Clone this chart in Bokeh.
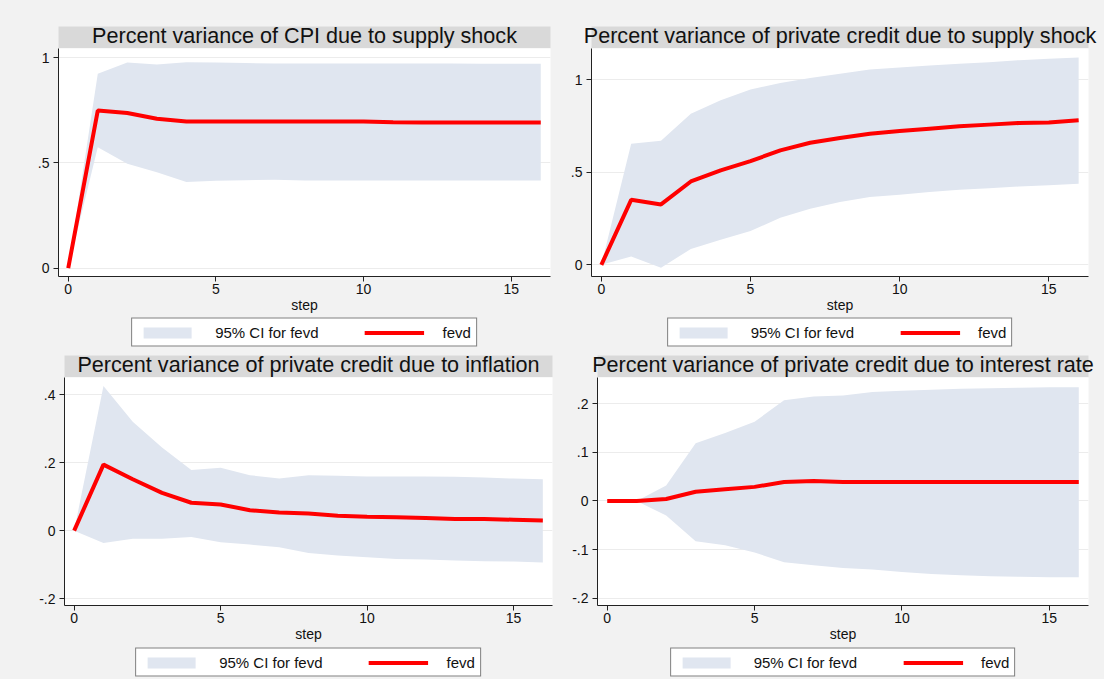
from bokeh.plotting import figure
from bokeh.models import Range1d, FixedTicker, Legend, LegendItem, Label, BoxAnnotation
from bokeh.layouts import column, row
from bokeh.embed import file_html
from bokeh.resources import INLINE

# ---------------- data ----------------
steps = list(range(17))
x_ticks = [0, 5, 10, 15]

titles = [
    "Percent variance of CPI due to supply shock",
    "Percent variance of private credit due to supply shock",
    "Percent variance of private credit due to inflation",
    "Percent variance of private credit due to interest rate",
]

fevd_cpi_supply = [0, 0.749, 0.737, 0.710, 0.697, 0.697, 0.697, 0.697, 0.697, 0.697, 0.697, 0.693, 0.692, 0.692, 0.692, 0.692, 0.692]
lo_cpi_supply = [0, 0.575, 0.496, 0.456, 0.409, 0.415, 0.418, 0.420, 0.416, 0.417, 0.417, 0.417, 0.417, 0.417, 0.417, 0.417, 0.417]
hi_cpi_supply = [0, 0.924, 0.978, 0.968, 0.979, 0.977, 0.975, 0.973, 0.973, 0.973, 0.973, 0.973, 0.973, 0.973, 0.972, 0.972, 0.972]

fevd_cred_supply = [0, 0.351, 0.326, 0.450, 0.510, 0.560, 0.618, 0.659, 0.685, 0.708, 0.722, 0.735, 0.748, 0.757, 0.766, 0.769, 0.780]
lo_cred_supply = [0, 0.045, -0.016, 0.086, 0.135, 0.182, 0.254, 0.303, 0.339, 0.366, 0.378, 0.393, 0.405, 0.414, 0.423, 0.429, 0.438]
hi_cred_supply = [0, 0.654, 0.670, 0.816, 0.888, 0.946, 0.982, 1.009, 1.032, 1.054, 1.065, 1.076, 1.085, 1.094, 1.105, 1.112, 1.119]

fevd_cred_infl = [0, 0.194, 0.151, 0.111, 0.082, 0.077, 0.060, 0.053, 0.050, 0.044, 0.041, 0.039, 0.037, 0.034, 0.034, 0.032, 0.030]
lo_cred_infl = [0, -0.036, -0.024, -0.024, -0.019, -0.034, -0.041, -0.049, -0.066, -0.073, -0.078, -0.083, -0.085, -0.088, -0.090, -0.091, -0.094]
hi_cred_infl = [0, 0.425, 0.320, 0.244, 0.178, 0.185, 0.163, 0.153, 0.163, 0.161, 0.159, 0.159, 0.159, 0.158, 0.156, 0.153, 0.151]

fevd_cred_rate = [0, 0, 0.004, 0.019, 0.024, 0.029, 0.039, 0.041, 0.039, 0.039, 0.039, 0.039, 0.039, 0.039, 0.039, 0.039, 0.039]
lo_cred_rate = [0, 0, -0.030, -0.083, -0.091, -0.106, -0.126, -0.132, -0.138, -0.141, -0.146, -0.150, -0.153, -0.155, -0.156, -0.157, -0.157]
hi_cred_rate = [0, 0, 0.032, 0.119, 0.140, 0.163, 0.207, 0.215, 0.217, 0.224, 0.227, 0.229, 0.231, 0.232, 0.233, 0.234, 0.234]

yticks_unit = [0, 0.5, 1]
ylabels_unit = ["0", ".5", "1"]
yticks_infl = [-0.2, 0, 0.2, 0.4]
ylabels_infl = ["-.2", "0", ".2", ".4"]
yticks_rate = [-0.2, -0.1, 0, 0.1, 0.2]
ylabels_rate = ["-.2", "-.1", "0", ".1", ".2"]

ci_label = "95% CI for fevd"
line_label = "fevd"
x_label = "step"

# ---------------- style ----------------
FONT = "Liberation Sans"
BG = "#f2f2f2"
BAND = "#d9d9d9"
CI = "#e0e6f0"
RED = "#ff0000"
AXIS = "#222222"
TXT = "#111111"
LINE_W = 4
BAND_H = 22


def bare_fig(width, height, xr, yr, bl=0, br=0, fill=BG):
    b = figure(width=width, height=height, x_range=xr, y_range=yr,
               output_backend="svg", toolbar_location=None,
               x_axis_location=None, y_axis_location=None,
               min_border_left=bl, min_border_right=br, min_border_top=0, min_border_bottom=0)
    b.grid.visible = False
    b.background_fill_color = fill
    b.border_fill_color = BG
    b.outline_line_color = None
    return b


def band_fig(text, width, height, bl, br):
    # ranges in pixel units of this strip; the grey band sits at its bottom
    b = bare_fig(width, height, Range1d(0, width), Range1d(0, height))
    b.add_layout(BoxAnnotation(left=bl, right=width - br, bottom=0, top=BAND_H,
                               fill_color=BAND, fill_alpha=1, line_color=None))
    b.add_layout(Label(x=(bl + width - br) / 2, y=13.5, text=text,
                       text_align="center", text_baseline="middle",
                       text_font=FONT, text_font_size="21.6px", text_color=TXT))
    return b


def legend_fig(width, height, bl, br, lo, hi, fevd):
    # the series are re-drawn out of view only to give the legend its swatches
    lf = bare_fig(width, height, Range1d(-3, -2), Range1d(0, 1), bl, br)
    r_ci = lf.varea(x=steps, y1=lo, y2=hi, fill_color=CI)
    r_ln = lf.line(steps, fevd, line_color=RED, line_width=LINE_W)
    legend = Legend(items=[LegendItem(label=ci_label, renderers=[r_ci]),
                           LegendItem(label=line_label, renderers=[r_ln])],
                    orientation="horizontal", location="center")
    legend.border_line_color = "black"
    legend.border_line_width = 1
    legend.background_fill_color = "white"
    legend.background_fill_alpha = 1
    legend.label_text_font = FONT
    legend.label_text_font_size = "15px"
    legend.label_text_color = TXT
    legend.glyph_width = 60
    legend.glyph_height = 14
    legend.label_height = 14
    legend.label_standoff = 18
    legend.spacing = 46
    legend.padding = 5
    legend.margin = 0
    lf.add_layout(legend, "center")
    return lf


def main_fig(width, height, bl, br, bb, yr, xt, yt, yl, fevd, lo, hi):
    p = figure(width=width, height=height, x_range=Range1d(-0.33, 16.33), y_range=Range1d(*yr),
               output_backend="svg", toolbar_location=None,
               min_border_left=bl, min_border_right=br, min_border_top=0, min_border_bottom=bb)
    p.background_fill_color = "white"
    p.border_fill_color = BG
    p.outline_line_color = None
    p.varea(x=steps, y1=lo, y2=hi, fill_color=CI)
    p.line(steps, fevd, line_color=RED, line_width=LINE_W)

    p.xgrid.visible = False
    p.ygrid.grid_line_color = "#ececec"
    p.ygrid.ticker = FixedTicker(ticks=yt)

    for ax in (p.xaxis[0], p.yaxis[0]):
        ax.axis_line_color = AXIS
        ax.major_tick_line_color = AXIS
        ax.major_tick_out = 5
        ax.major_tick_in = 0
        ax.minor_tick_line_color = None
        ax.major_label_text_font = FONT
        ax.major_label_text_font_size = "14px"
        ax.major_label_text_color = TXT
    p.xaxis.ticker = FixedTicker(ticks=xt)
    p.xaxis.major_label_standoff = 2
    p.xaxis.axis_label = x_label
    p.xaxis.axis_label_text_font = FONT
    p.xaxis.axis_label_text_font_size = "14px"
    p.xaxis.axis_label_text_font_style = "normal"
    p.xaxis.axis_label_text_color = TXT
    p.xaxis.axis_label_standoff = 0
    p.yaxis.ticker = FixedTicker(ticks=yt)
    p.yaxis.major_label_overrides = {t: s for t, s in zip(yt, yl)}
    p.yaxis.major_label_standoff = 4
    p.yaxis.major_label_orientation = "horizontal"
    return p


LW, RW = 564, 540

b1 = band_fig(titles[0], LW, 48, 58, 14)
b2 = band_fig(titles[1], RW, 48, 27, 16)
m1 = main_fig(LW, 268, 58, 14, 40, (-0.04, 1.044), x_ticks, yticks_unit, ylabels_unit,
              fevd_cpi_supply, lo_cpi_supply, hi_cpi_supply)
m2 = main_fig(RW, 268, 27, 16, 40, (-0.063, 1.168), x_ticks, yticks_unit, ylabels_unit,
              fevd_cred_supply, lo_cred_supply, hi_cred_supply)
l1 = legend_fig(LW, 32, 58, 14, lo_cpi_supply, hi_cpi_supply, fevd_cpi_supply)
l2 = legend_fig(RW, 32, 27, 16, lo_cred_supply, hi_cred_supply, fevd_cred_supply)
b3 = band_fig(titles[2], LW, 29, 64, 12)
b4 = band_fig(titles[3], RW, 29, 33, 16)
m3 = main_fig(LW, 268, 64, 12, 40, (-0.22, 0.45), x_ticks, yticks_infl, ylabels_infl,
              fevd_cred_infl, lo_cred_infl, hi_cred_infl)
m4 = main_fig(RW, 268, 33, 16, 40, (-0.215, 0.254), x_ticks, yticks_rate, ylabels_rate,
              fevd_cred_rate, lo_cred_rate, hi_cred_rate)
l3 = legend_fig(LW, 34, 64, 12, lo_cred_infl, hi_cred_infl, fevd_cred_infl)
l4 = legend_fig(RW, 34, 33, 16, lo_cred_rate, hi_cred_rate, fevd_cred_rate)

layout = column(row(b1, b2), row(m1, m2), row(l1, l2), row(b3, b4), row(m3, m4), row(l3, l4),
                styles={"background-color": BG})

open("out.html", "w").write(file_html(layout, INLINE))
